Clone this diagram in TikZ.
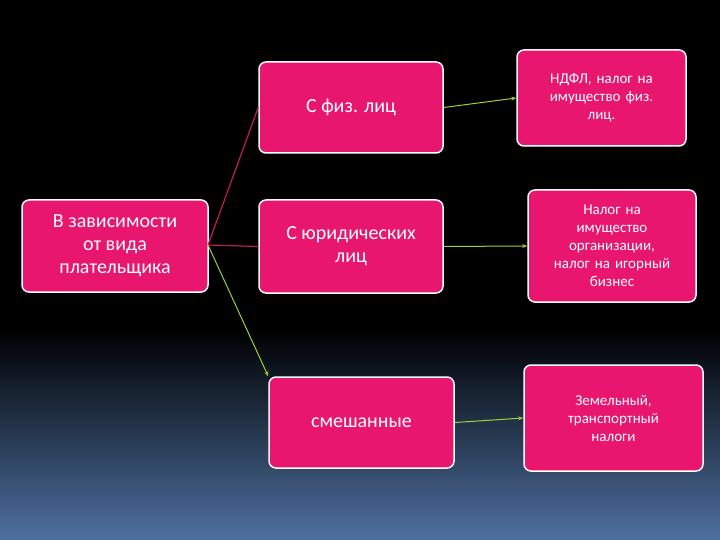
\documentclass[tikz,border=0pt]{standalone}
\usepackage{fontspec}
\setmainfont{Carlito}
\usetikzlibrary{arrows.meta}
\definecolor{mag}{RGB}{232,22,110}
\definecolor{bot}{RGB}{78,112,160}
\definecolor{lnred}{RGB}{190,30,80}
\definecolor{lngreen}{RGB}{150,210,60}
\begin{document}
\begin{tikzpicture}[x=1pt,y=-1pt,
  box/.style={draw=white,line width=1.5pt,fill=mag,rounded corners=7pt,text=white,align=center,inner sep=2pt},
  big/.style={box,font=\fontsize{20}{23}\selectfont},
  small/.style={box,font=\fontsize{15}{18}\selectfont},
  rl/.style={draw=lnred,line width=1.2pt},
  gl/.style={draw=lngreen,line width=1pt,-{Stealth[length=5pt,width=4pt]}}]
\useasboundingbox (0,0) rectangle (720,540);
\fill[black] (0,0) rectangle (720,330);
\shade[top color=black,bottom color=bot] (0,329) rectangle (720,540);
\node[big,minimum width=186pt,minimum height=92pt] (L) at (115,246) {В зависимости\\от вида\\плательщика};
\node[big,minimum width=184pt,minimum height=91pt] (A) at (351,107.5) {С физ. лиц};
\node[big,minimum width=184pt,minimum height=93pt] (B) at (351,246.5) {С юридических\\лиц};
\node[big,minimum width=185pt,minimum height=91pt] (C) at (361.5,422.5) {смешанные};
\node[small,minimum width=169pt,minimum height=96pt,text width=160pt] (R1) at (601.5,98) {НДФЛ, налог на\\имущество физ.\\лиц.};
\node[small,minimum width=168pt,minimum height=112pt,text width=160pt] (R2) at (612,246) {Налог на\\имущество\\организации,\\налог на игорный\\бизнес};
\node[small,minimum width=179pt,minimum height=106pt,text width=170pt] (R3) at (613.5,418) {Земельный,\\транспортный\\налоги};
\coordinate (o) at (208,245);
\draw[rl] (o) -- (A.west);
\draw[rl] (o) -- (B.west);
\draw[draw=lngreen,line width=1pt,-{Stealth[length=5pt,width=4pt]}] (o) -- (C.north west);
\draw[gl] (A.east) -- (R1.west);
\draw[gl] (B.east) -- (R2.west);
\draw[gl] (C.east) -- (R3.west);
\end{tikzpicture}
\end{document}
